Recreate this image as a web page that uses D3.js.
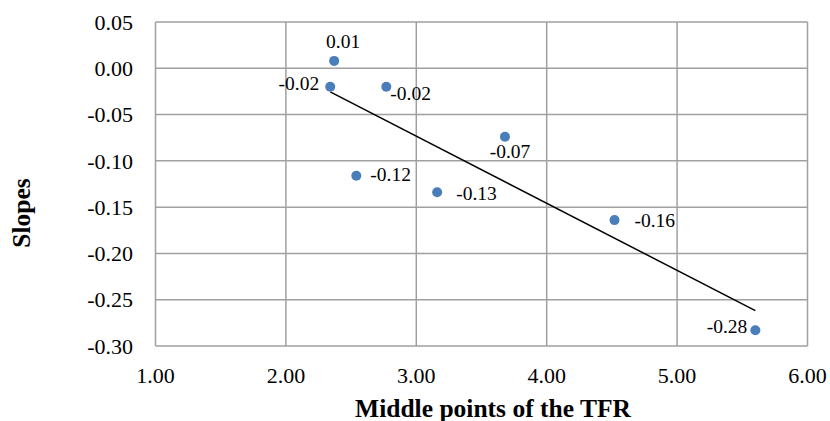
<!DOCTYPE html>
<html>
<head>
<meta charset="utf-8">
<script src="https://cdn.jsdelivr.net/npm/d3@7"></script>
<style>
  body { margin: 0; background: #fff; }
  text { font-family: "Liberation Serif", "Times New Roman", serif; fill: #000; }
</style>
</head>
<body>
<div id="chart"></div>
<script>
// data
const tfrMid = [2.37, 2.34, 2.77, 2.54, 3.68, 3.16, 4.52, 5.60];
const slopes = [0.008, -0.020, -0.020, -0.116, -0.074, -0.134, -0.164, -0.283];
const slopeLabels = ["0.01", "-0.02", "-0.02", "-0.12", "-0.07", "-0.13", "-0.16", "-0.28"];
const xTicks = [1, 2, 3, 4, 5, 6];
const yTicks = [0.05, 0, -0.05, -0.10, -0.15, -0.20, -0.25, -0.30];

// label placement (anchor, dx, dy from the point)
const labelPlace = [
  ["middle", 9, -13],
  ["end", -11, 3],
  ["start", 4, 13],
  ["start", 14, 5],
  ["middle", 5, 21],
  ["start", 19, 8],
  ["start", 20, 7],
  ["end", -8, 3]
];

const svg = d3.select("#chart").append("svg").attr("width", 830).attr("height", 421);

const x = d3.scaleLinear().domain([1, 6]).range([155.5, 807.5]);
const y = d3.scaleLinear().domain([-0.30, 0.05]).range([346, 22]);

// ----- grid -------
svg.append("g").selectAll("line").data(xTicks).join("line")
  .attr("x1", d => x(d)).attr("x2", d => x(d))
  .attr("y1", y(0.05)).attr("y2", y(-0.30))
  .attr("stroke", "#a0a0a0").attr("stroke-width", 1.5);

svg.append("g").selectAll("line").data(yTicks).join("line")
  .attr("x1", x(1)).attr("x2", x(6))
  .attr("y1", d => y(d)).attr("y2", d => y(d))
  .attr("stroke", "#a0a0a0").attr("stroke-width", 1.5);

// ----- tick labels -------
svg.append("g").selectAll("text").data(yTicks).join("text")
  .attr("x", 133)
  .attr("y", d => y(d))
  .attr("dy", "0.35em")
  .attr("text-anchor", "end")
  .style("font-size", "22px")
  .text(d => d3.format(".2f")(d).replace("−", "-"));

svg.append("g").selectAll("text").data(xTicks).join("text")
  .attr("x", d => x(d))
  .attr("y", 382.5)
  .attr("text-anchor", "middle")
  .style("font-size", "22px")
  .text(d => d3.format(".2f")(d));

// ----- trend line (least squares) -------
const pts = tfrMid.map((d, i) => [d, slopes[i]]);
const mx = d3.mean(tfrMid), my = d3.mean(slopes);
const b = d3.sum(pts, p => (p[0] - mx) * (p[1] - my)) / d3.sum(pts, p => (p[0] - mx) ** 2);
const a = my - b * mx;
const xr = d3.extent(tfrMid);
svg.append("line")
  .attr("x1", x(xr[0])).attr("y1", y(a + b * xr[0]))
  .attr("x2", x(xr[1])).attr("y2", y(a + b * xr[1]))
  .attr("stroke", "#000").attr("stroke-width", 1.5);

// ----- points -------
svg.append("g").selectAll("circle").data(pts).join("circle")
  .attr("cx", d => x(d[0]))
  .attr("cy", d => y(d[1]))
  .attr("r", 5)
  .attr("fill", "#4a7ebb");

// ----- data labels -------
svg.append("g").selectAll("text").data(pts).join("text")
  .attr("x", (d, i) => x(d[0]) + labelPlace[i][1])
  .attr("y", (d, i) => y(d[1]) + labelPlace[i][2])
  .attr("text-anchor", (d, i) => labelPlace[i][0])
  .style("font-size", "19.5px")
  .text((d, i) => slopeLabels[i]);

// ----- axis titles -------
svg.append("text")
  .attr("x", 493)
  .attr("y", 416.5)
  .attr("text-anchor", "middle")
  .style("font-size", "25.5px")
  .style("font-weight", "bold")
  .text("Middle points of the TFR");

svg.append("text")
  .attr("transform", "translate(30,213) rotate(-90)")
  .attr("text-anchor", "middle")
  .style("font-size", "25.5px")
  .style("font-weight", "bold")
  .text("Slopes");
</script>
</body>
</html>
